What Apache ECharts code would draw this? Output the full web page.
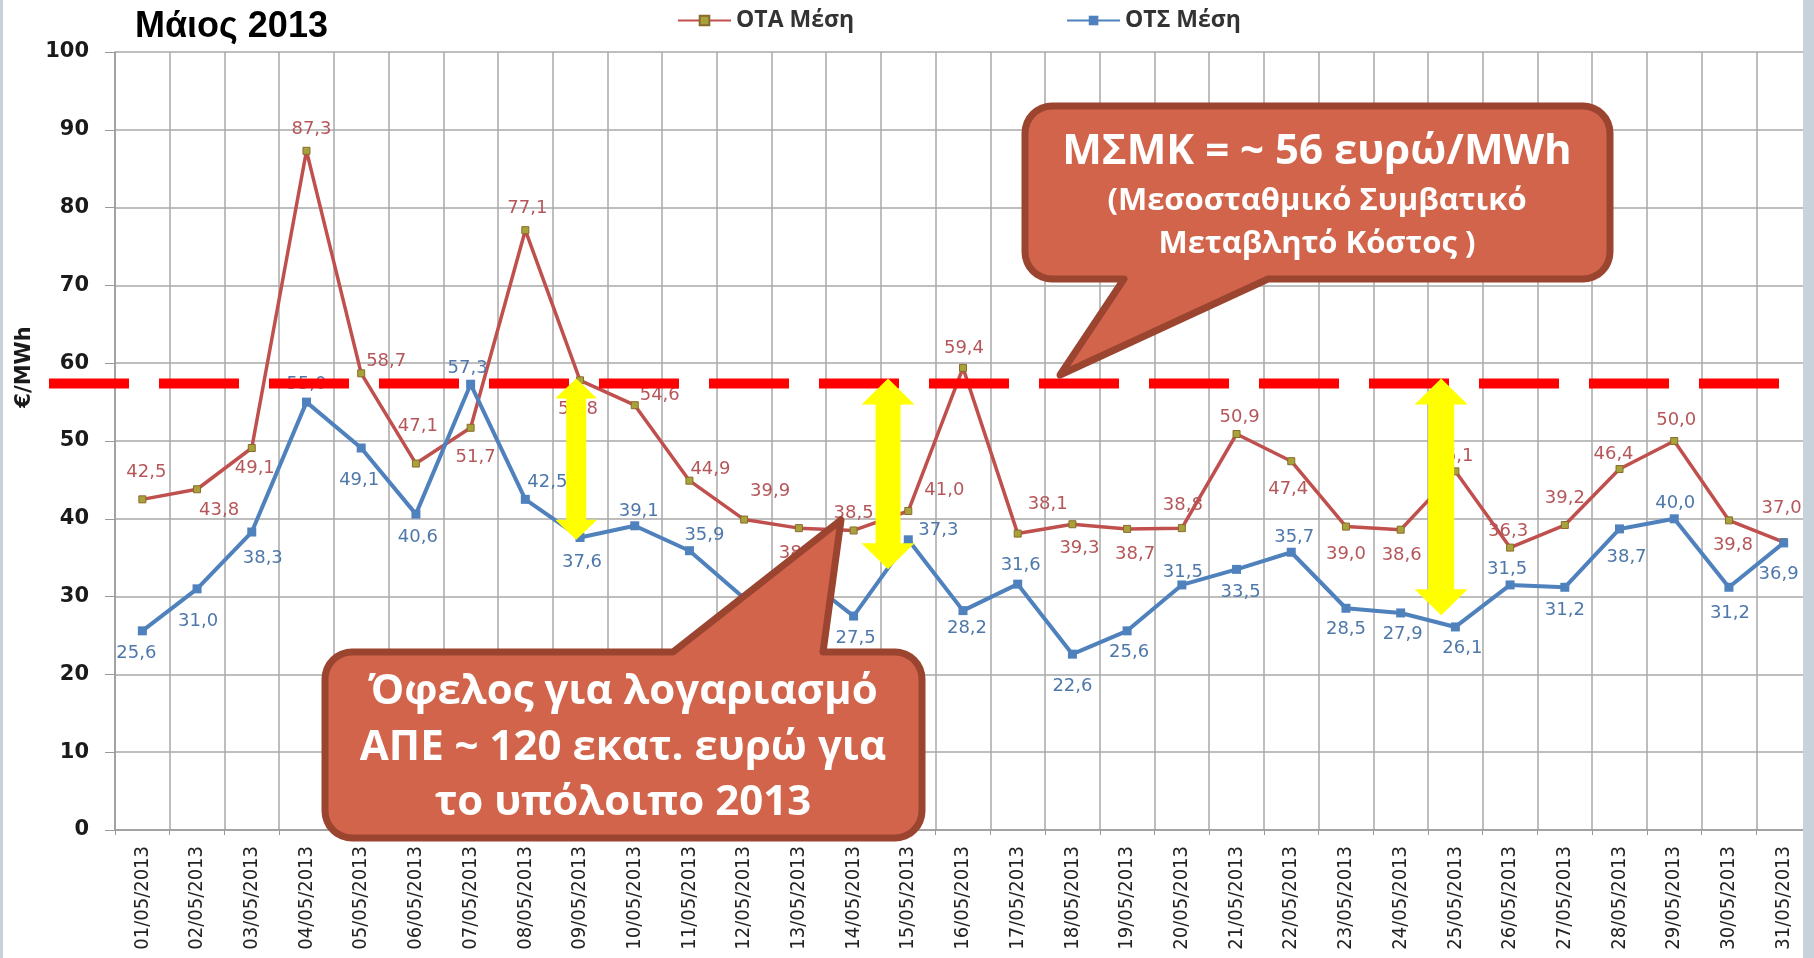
<!DOCTYPE html>
<html>
<head>
<meta charset="utf-8">
<script src="https://cdn.jsdelivr.net/npm/echarts@6/dist/echarts.min.js"></script>
<style>
  html, body { margin: 0; padding: 0; background: #fff; }
  #chart { width: 1814px; height: 958px; }
</style>
</head>
<body>
<div id="chart"></div>
<script>
const chart = echarts.init(document.getElementById('chart'));

const days = [
  '01/05/2013', '02/05/2013', '03/05/2013', '04/05/2013', '05/05/2013', '06/05/2013',
  '07/05/2013', '08/05/2013', '09/05/2013', '10/05/2013', '11/05/2013', '12/05/2013',
  '13/05/2013', '14/05/2013', '15/05/2013', '16/05/2013', '17/05/2013', '18/05/2013',
  '19/05/2013', '20/05/2013', '21/05/2013', '22/05/2013', '23/05/2013', '24/05/2013',
  '25/05/2013', '26/05/2013', '27/05/2013', '28/05/2013', '29/05/2013', '30/05/2013',
  '31/05/2013'
];

// ΟΤΑ Μέση
const otaValues = [42.5, 43.8, 49.1, 87.3, 58.7, 47.1, 51.7, 77.1, 57.8, 54.6, 44.9, 39.9, 38.8, 38.5, 41.0, 59.4,
  38.1, 39.3, 38.7, 38.8, 50.9, 47.4, 39.0, 38.6, 46.1, 36.3, 39.2, 46.4, 50.0, 39.8, 37.0];

// ΟΤΣ Μέση
const otsValues = [25.6, 31.0, 38.3, 55.0, 49.1, 40.6, 57.3, 42.5, 37.6, 39.1, 35.9, 29.8, 33.0, 27.5, 37.3, 28.2,
  31.6, 22.6, 25.6, 31.5, 33.5, 35.7, 28.5, 27.9, 26.1, 31.5, 31.2, 38.7, 40.0, 31.2, 36.9];

const yMin = 0;
const yMax = 100;
const yStep = 10;

// ΜΣΜΚ level (dashed red line)
const msmkLevel = 57.4;

// label placement, px from the point
const otaLabelOffset = [[4,-27],[22,21],[3,20],[5,-21],[25,-12],[2,-37],[5,30],[2,-22],[-2,29],[25,-10],[21,-11],
  [26,-28],[0,25],[0,-17],[36,-21],[1,-20],[30,-29],[7,24],[8,25],[1,-23],[3,-17],[-3,28],[0,28],[1,26],[-2,-15],
  [-2,-16],[0,-27],[-6,-15],[2,-21],[4,25],[-2,-34]];
const otsLabelOffset = [[-6,22],[1,33],[11,26],[0,-18],[-2,32],[2,23],[-3,-16],[22,-17],[2,25],[4,-14],[15,-15],
  [0,25],[0,25],[2,22],[30,-9],[4,18],[3,-19],[0,32],[2,21],[1,-13],[4,23],[3,-15],[0,21],[2,21],[7,21],[-3,-16],
  [0,23],[7,28],[1,-15],[1,26],[-5,31]];

// yellow double arrows: category position and lower end value
const arrows = [
  { at: 7.93, bottom: 37.3, shaft: 20, head: 42, headH: 20 },
  { at: 13.63, bottom: 33.5, shaft: 25, head: 53, headH: 26 },
  { at: 23.74, bottom: 27.6, shaft: 26, head: 53, headH: 26 }
];

const fmt = v => v.toFixed(1).replace('.', ',');

function withLabels(values, offsets) {
  return values.map((v, i) => ({ value: v, label: { offset: offsets[i] } }));
}

const option = {
  animation: false,
  backgroundColor: '#ffffff',
  title: {
    text: 'Μάιος 2013',
    left: 130,
    top: 4,
    textStyle: { fontFamily: 'Liberation Sans', fontSize: 36, fontWeight: 'bold', color: '#000' }
  },
  legend: {
    data: ['ΟΤΑ Μέση', 'ΟΤΣ Μέση'],
    left: 672,
    top: 4,
    itemWidth: 53,
    itemHeight: 12,
    itemGap: 212,
    textStyle: { fontFamily: 'Open Sans', fontSize: 23, fontWeight: 'bold', color: '#333' }
  },
  grid: {
    left: 115,
    right: 3,
    top: 52,
    bottom: 128,
    containLabel: false,
    outerBoundsMode: 'none'
  },
  xAxis: {
    type: 'category',
    data: days,
    boundaryGap: true,
    axisLine: { show: true, lineStyle: { color: '#9a9a9a', width: 1.5 } },
    axisTick: { show: true, interval: 0, length: 5, lineStyle: { color: '#9a9a9a' } },
    splitLine: { show: true, interval: 0, lineStyle: { color: '#a8a8a8', width: 1.5 } },
    axisLabel: {
      interval: 0,
      rotate: 90,
      margin: 16,
      fontFamily: '"DejaVu Sans Condensed", "DejaVu Sans"',
      fontSize: 20,
      color: '#222'
    }
  },
  yAxis: {
    type: 'value',
    min: yMin,
    max: yMax,
    interval: yStep,
    axisLine: { show: true, lineStyle: { color: '#9a9a9a', width: 1.5 } },
    axisTick: { show: true, length: 10, lineStyle: { color: '#9a9a9a' } },
    splitLine: { show: true, lineStyle: { color: '#a8a8a8', width: 1.5 } },
    axisLabel: {
      margin: 26,
      fontFamily: 'DejaVu Sans',
      fontSize: 21,
      fontWeight: 'bold',
      color: '#1a1a1a'
    }
  },
  series: [
    {
      name: 'ΟΤΑ Μέση',
      type: 'line',
      data: withLabels(otaValues, otaLabelOffset),
      symbol: 'rect',
      symbolSize: 7,
      showAllSymbol: true,
      lineStyle: { color: '#c0504d', width: 3.5 },
      itemStyle: { color: '#a8a23a', borderColor: '#8a6a2c', borderWidth: 1 },
      label: {
        show: true,
        position: 'inside',
        formatter: p => fmt(p.value),
        fontFamily: 'DejaVu Sans',
        fontSize: 18,
        color: '#b5575a'
      },
      z: 3
    },
    {
      name: 'ΟΤΣ Μέση',
      type: 'line',
      data: withLabels(otsValues, otsLabelOffset),
      symbol: 'rect',
      symbolSize: 9,
      showAllSymbol: true,
      lineStyle: { color: '#4f81bd', width: 4 },
      itemStyle: { color: '#4f81bd' },
      label: {
        show: true,
        position: 'inside',
        formatter: p => fmt(p.value),
        fontFamily: 'DejaVu Sans',
        fontSize: 18,
        color: '#4f78aa'
      },
      z: 4
    }
  ]
};

chart.setOption(option);

// ---- annotations ----
function xAt(pos) {
  const i = Math.floor(pos);
  const f = pos - i;
  const a = chart.convertToPixel({ xAxisIndex: 0 }, i);
  const b = chart.convertToPixel({ xAxisIndex: 0 }, Math.min(i + 1, days.length - 1));
  return a + (b - a) * f;
}
function yAt(v) {
  return chart.convertToPixel({ yAxisIndex: 0 }, v);
}

function roundCorner(pts, cx, cy, r, a0, a1) {
  const n = 8;
  for (let k = 0; k <= n; k++) {
    const a = a0 + (a1 - a0) * k / n;
    pts.push([cx + r * Math.cos(a), cy + r * Math.sin(a)]);
  }
}

// rounded box with a pointer; tail = [base1, tip, base2] inserted on the given edge
function calloutPoints(x1, y1, x2, y2, r, edge, tail) {
  const P = Math.PI;
  const pts = [];
  roundCorner(pts, x1 + r, y1 + r, r, P, 1.5 * P);
  if (edge === 'top') tail.forEach(p => pts.push(p));
  roundCorner(pts, x2 - r, y1 + r, r, 1.5 * P, 2 * P);
  roundCorner(pts, x2 - r, y2 - r, r, 0, 0.5 * P);
  if (edge === 'bottom') tail.forEach(p => pts.push(p));
  roundCorner(pts, x1 + r, y2 - r, r, 0.5 * P, P);
  return pts;
}

function txt(text, x, y, size) {
  return {
    type: 'text',
    x: x,
    y: y,
    z: 120,
    style: {
      text: text,
      fill: '#ffffff',
      font: 'bold ' + size + 'px "Open Sans"',
      textAlign: 'center',
      align: 'center',
      textVerticalAlign: 'middle',
      verticalAlign: 'middle'
    }
  };
}

const yLine = yAt(msmkLevel);
const graphics = [];

// dashed ΜΣΜΚ line
graphics.push({
  type: 'line',
  z: 100,
  shape: { x1: 49, y1: yLine, x2: 1779, y2: yLine },
  style: { stroke: '#ff0000', lineWidth: 10, lineDash: [80, 30] }
});

// yellow arrows
arrows.forEach(a => {
  const x = xAt(a.at);
  const t = yLine - 5;
  const b = yAt(a.bottom);
  const hw = a.head / 2, sw = a.shaft / 2, hh = a.headH;
  graphics.push({
    type: 'polygon',
    z: 105,
    shape: {
      points: [[x, t], [x + hw, t + hh], [x + sw, t + hh], [x + sw, b - hh], [x + hw, b - hh], [x, b],
        [x - hw, b - hh], [x - sw, b - hh], [x - sw, t + hh], [x - hw, t + hh]]
    },
    style: { fill: '#ffff00' }
  });
});

// callout: ΜΣΜΚ
graphics.push({
  type: 'polygon',
  z: 110,
  shape: { points: calloutPoints(1025, 106, 1610, 279, 27, 'bottom', [[1268, 279], [1060, 375], [1124, 279]]) },
  style: { fill: '#d1644a', stroke: '#9b4531', lineWidth: 7, lineJoin: 'round' }
});
graphics.push(txt('ΜΣΜΚ = ~ 56 ευρώ/MWh', 1317, 152, 42));
graphics.push(txt('(Μεσοσταθμικό Συμβατικό', 1317, 201, 31));
graphics.push(txt('Μεταβλητό Κόστος )', 1317, 244, 31));

// callout: Όφελος
graphics.push({
  type: 'polygon',
  z: 110,
  shape: { points: calloutPoints(325, 652, 922, 838, 27, 'top', [[673, 652], [841, 520], [823, 652]]) },
  style: { fill: '#d1644a', stroke: '#9b4531', lineWidth: 7, lineJoin: 'round' }
});
graphics.push(txt('Όφελος για λογαριασμό', 623, 692, 42));
graphics.push(txt('ΑΠΕ ~ 120 εκατ. ευρώ για', 623, 748, 42));
graphics.push(txt('το υπόλοιπο 2013', 623, 803, 42));

// y axis name
graphics.push({
  type: 'text',
  x: 25,
  y: 367,
  rotation: Math.PI / 2,
  z: 90,
  style: {
    text: '€/MWh',
    fill: '#1a1a1a',
    font: 'bold 21px "DejaVu Sans"',
    textAlign: 'center',
    align: 'center',
    textVerticalAlign: 'middle',
    verticalAlign: 'middle'
  }
});

// slide frame edges
graphics.push({ type: 'rect', z: 130, shape: { x: 0, y: 0, width: 3, height: 958 }, style: { fill: '#c8d2da' } });
graphics.push({ type: 'rect', z: 130, shape: { x: 1803, y: 0, width: 11, height: 958 }, style: { fill: '#c8d2da' } });

chart.setOption({ graphic: graphics });
</script>
</body>
</html>
